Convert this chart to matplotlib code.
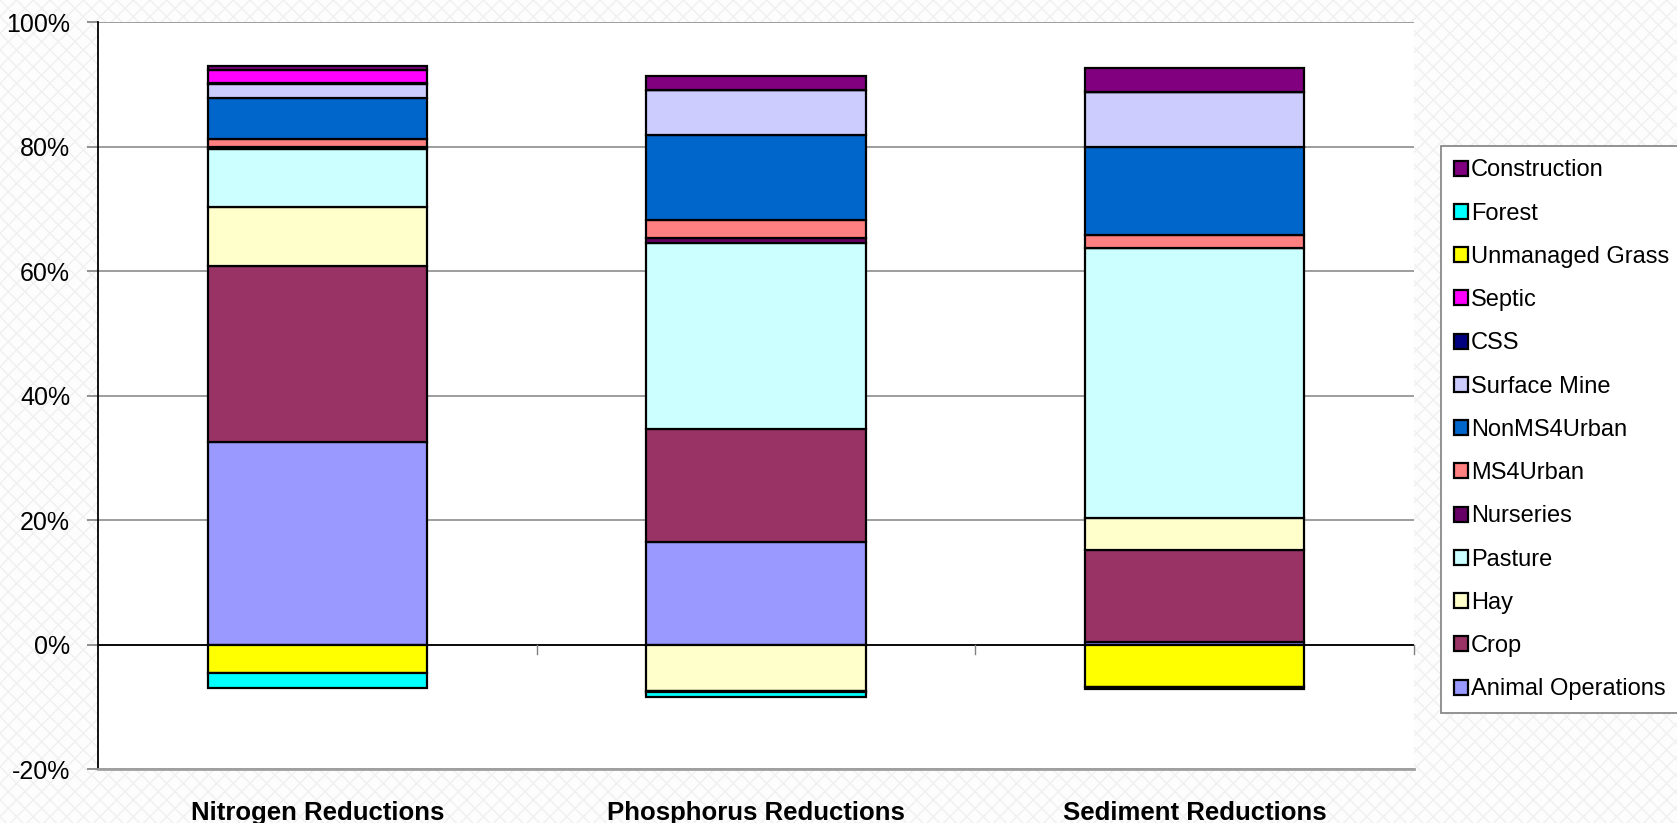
import numpy as np
import matplotlib.pyplot as plt
from matplotlib.patches import Rectangle
from matplotlib.ticker import FuncFormatter

plt.rcParams['font.family'] = ['Liberation Sans', 'DejaVu Sans']

categories = ["Nitrogen Reductions", "Phosphorus Reductions", "Sediment Reductions"]

# sources, bottom of the stack first (values in %)
sources = ["Animal Operations", "Crop", "Hay", "Pasture", "Nurseries", "MS4Urban",
           "NonMS4Urban", "Surface Mine", "CSS", "Septic", "Unmanaged Grass",
           "Forest", "Construction"]
animal_ops = [32.6, 16.5, 0.4]
crop = [28.2, 18.2, 14.9]
hay = [9.6, -7.4, 5.0]
pasture = [9.2, 29.8, 43.4]
nurseries = [0.3, 0.9, 0.0]
ms4urban = [1.3, 2.85, 2.1]
nonms4urban = [6.6, 13.65, 14.1]
surface_mine = [2.3, 7.3, 8.85]
css = [0.1, 0.0, 0.0]
septic = [2.1, 0.0, 0.0]
unmanaged_grass = [-4.5, -0.2, -6.8]
forest = [-2.5, -0.8, -0.3]
construction = [0.7, 2.2, 3.85]

colors = ["#9999FF", "#993366", "#FFFFCC", "#CCFFFF", "#660066", "#FF8080",
          "#0066CC", "#CCCCFF", "#000080", "#FF00FF", "#FFFF00", "#00FFFF", "#800080"]

series = [animal_ops, crop, hay, pasture, nurseries, ms4urban, nonms4urban,
          surface_mine, css, septic, unmanaged_grass, forest, construction]

fig = plt.figure(figsize=(16.77, 8.23), dpi=100)
fig.patch.set_facecolor("white")
fig.patches.append(Rectangle((0, 0), 1, 1, transform=fig.transFigure, facecolor="#fdfdfd",
                             edgecolor="#f0f0f0", hatch="xx", linewidth=0, zorder=-10))

ax = fig.add_axes([0.0584, 0.0652, 0.7847, 0.9077])
ax.set_facecolor("white")

x = np.arange(len(categories))
pos_bottom = np.zeros(len(categories))
neg_bottom = np.zeros(len(categories))
handles = []
for name, vals, col in zip(sources, series, colors):
    vals = np.array(vals, dtype=float)
    bottom = np.where(vals >= 0, pos_bottom, neg_bottom)
    b = ax.bar(x, vals, 0.5, bottom=bottom, color=col, edgecolor="black",
               linewidth=1.6, label=name, zorder=3)
    handles.append(b)
    pos_bottom += np.where(vals >= 0, vals, 0)
    neg_bottom += np.where(vals < 0, vals, 0)

ax.set_xlim(-0.5, 2.5)
ax.set_ylim(-20, 100)
ax.set_yticks(np.arange(-20, 101, 20))
ax.yaxis.set_major_formatter(FuncFormatter(lambda v, p: "%d%%" % v))
ax.grid(axis="y", color="#8c8c8c", linewidth=1.2, zorder=0)
ax.axhline(0, color="black", linewidth=1.3, zorder=2)
for b in x + 0.5:
    ax.plot([b, b], [0, -1.4], color="#808080", linewidth=1, zorder=2, clip_on=False)

ax.set_xticks(x)
ax.set_xticklabels(categories, fontsize=18.5, fontweight="bold")
ax.tick_params(axis="x", length=0, pad=23)
ax.tick_params(axis="y", labelsize=18, length=8, width=1.2, color="#808080", pad=12)

for s in ["top", "right"]:
    ax.spines[s].set_visible(False)
ax.spines["left"].set_color("black")
ax.spines["left"].set_linewidth(1.3)
ax.spines["bottom"].set_color("#a0a0a0")
ax.spines["bottom"].set_linewidth(2)

leg = fig.legend(handles[::-1], sources[::-1], loc="upper left",
                 bbox_to_anchor=(0.859, 0.822), fontsize=17, frameon=True,
                 fancybox=False, edgecolor="#808080", framealpha=1,
                 handlelength=0.6, handleheight=0.6, handletextpad=0.15,
                 labelspacing=0.9, borderpad=0.55, borderaxespad=0)
leg.get_frame().set_linewidth(1.2)

fig.savefig("out.png", dpi=100)
